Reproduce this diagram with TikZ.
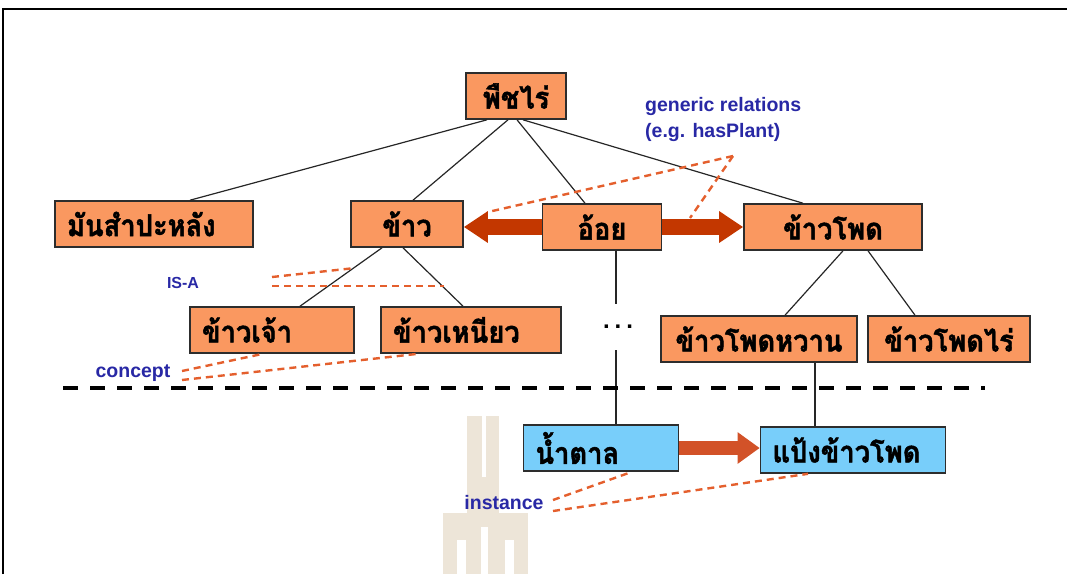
\documentclass[tikz,border=0pt]{standalone}
\usepackage{fontspec}
\setmainfont{Liberation Sans}
\newfontfamily\thai[Script=Thai, FakeStretch=0.91, BoldFeatures={FakeBold=1.5}]{Loma}
\usetikzlibrary{arrows.meta,calc}

\definecolor{conceptfill}{RGB}{250,152,96}
\definecolor{instfill}{RGB}{120,206,250}
\definecolor{boxedge}{RGB}{45,45,45}
\definecolor{relarrow}{RGB}{195,55,0}
\definecolor{instarrow}{RGB}{210,82,40}
\definecolor{reldash}{RGB}{228,95,45}
\definecolor{labelblue}{RGB}{40,40,165}
\definecolor{markcol}{RGB}{237,229,216}

\begin{document}
\begin{tikzpicture}[x=1pt,y=-1pt,
  box/.style={draw=boxedge, line width=1.6pt, minimum height=46pt,
    inner xsep=12pt, inner ysep=0pt, text=black,
    font=\thai\bfseries\fontsize{30}{32}\selectfont},
  concept/.style={box, fill=conceptfill},
  inst/.style={box, fill=instfill},
  tree/.style={line width=1.2pt, draw=black!85},
  reldashed/.style={draw=reldash, line width=2.4pt, dash pattern=on 7pt off 5pt},
  relarr/.style={draw=relarrow, line width=16pt, -{Triangle[length=24pt,width=30pt]}},
  instarr/.style={draw=instarrow, line width=14pt, -{Triangle[length=22pt,width=30pt]}},
  lbl/.style={text=labelblue, font=\bfseries\fontsize{19.5}{26}\selectfont, inner sep=0pt},
]
\useasboundingbox (0,0) rectangle (1067,574);

% faint tower emblem behind the drawing
\begin{scope}
  \fill[markcol] (467,416) rectangle (499,515);
  \fill[white] (482,416) rectangle (486,477);
  \fill[markcol] (443,513) rectangle (528,574);
  \fill[white] (457,540) rectangle (466,574);
  \fill[white] (481,527) rectangle (488,574);
  \fill[white] (505,540) rectangle (514,574);
\end{scope}

% page frame
\draw[line width=1.5pt] (3,574) -- (3,9) -- (1067,9);

% concept nodes
\node[concept, text width=76pt, align=center] (top) at (516,96) {พืชไร่};
\node[concept, text width=174pt, align=left] (cass) at (154,224) {มันสำปะหลัง};
\node[concept, text width=88pt, align=center] (rice) at (407,224) {ข้าว};
\node[concept, text width=95pt, align=center] (cane) at (602,227) {อ้อย};
\node[concept, text width=154pt, align=center] (corn) at (833,227) {ข้าวโพด};
\node[concept, text width=140pt, align=left] (kj) at (272,330) {ข้าวเจ้า};
\node[concept, text width=156pt, align=left] (kn) at (471,330) {ข้าวเหนียว};
\node[concept, text width=172pt, align=center] (sw) at (759,339) {ข้าวโพดหวาน};
\node[concept, text width=138pt, align=center] (fc) at (949,339) {ข้าวโพดไร่};

% instance nodes
\node[inst, text width=131pt, align=left] (sugar) at (601,448) {น้ำตาล};
\node[inst, text width=161pt, align=left] (flour) at (853,450) {แป้งข้าวโพด};

% ellipsis on the sugarcane branch
\node[inner sep=0pt, minimum height=46pt, font=\bfseries\fontsize{24}{24}\selectfont] (dots) at (618,327) {.\hspace{5pt}.\hspace{5pt}.};

% IS-A tree
\draw[tree] ([xshift=-29pt]top.south) -- ([xshift=36pt]cass.north);
\draw[tree] ([xshift=-8pt]top.south) -- ([xshift=6pt]rice.north);
\draw[tree] ([xshift=1pt]top.south) -- ([xshift=-17pt]cane.north);
\draw[tree] ([xshift=7pt]top.south) -- ([xshift=-30pt]corn.north);
\draw[tree] ([xshift=-25pt]rice.south) -- ([xshift=28pt]kj.north);
\draw[tree] ([xshift=-4pt]rice.south) -- ([xshift=-8pt]kn.north);
\draw[tree] ([xshift=10pt]corn.south) -- ([xshift=26pt]sw.north);
\draw[tree] ([xshift=35pt]corn.south) -- ([xshift=-34pt]fc.north);
\draw[tree] ([xshift=14pt]cane.south) -- ([xshift=-2pt]dots.north);
\draw[tree] ([xshift=-2pt]dots.south) -- ([xshift=15pt]sugar.north);
\draw[tree] ([xshift=56pt]sw.south) -- ([xshift=-38pt]flour.north);

% concept / instance divider
\coordinate (divL) at (63,388);
\coordinate (divR) at (985,388);
\draw[line width=3.5pt, dash pattern=on 15pt off 12pt] (divL) -- (divR);

% generic relations
\draw[relarr] (cane.west) -- (rice.east |- cane.west);
\draw[relarr] (cane.east) -- (corn.west |- cane.east);
\draw[instarr] (sugar.east) -- (flour.west |- sugar.east);

% annotation labels
\node[lbl, anchor=north west, align=left] (gen) at (645,97) {generic relations\\(e.g. hasPlant)};
\node[lbl, font=\bfseries\fontsize{16}{18}\selectfont] (isa) at (183,283) {IS-A};
\node[lbl] (concept) at (133,373) {concept};
\node[lbl] (instance) at (504,503) {instance};

% annotation pointers
\coordinate (genSrc) at (733,156);
\coordinate (genL) at (488,212);
\coordinate (genR) at (690,218);
\draw[reldashed] (genSrc) -- (genL);
\draw[reldashed] (genSrc) -- (genR);

\coordinate (isaA) at (272,277);
\coordinate (isaB) at (272,286);
\coordinate (isaEndA) at (355,268);
\coordinate (isaEndB) at (444,286);
\draw[reldashed] (isaA) -- (isaEndA);
\draw[reldashed] (isaB) -- (isaEndB);

\coordinate (conA) at (182,371);
\coordinate (conB) at (182,380);
\draw[reldashed] (conA) -- ([xshift=-9pt]kj.south);
\draw[reldashed] (conB) -- ([xshift=-53pt]kn.south);

\coordinate (insA) at (553,500);
\coordinate (insB) at (553,511);
\draw[reldashed] (insA) -- ([xshift=31pt]sugar.south);
\draw[reldashed] (insB) -- ([xshift=-45pt]flour.south);
\end{tikzpicture}
\end{document}
